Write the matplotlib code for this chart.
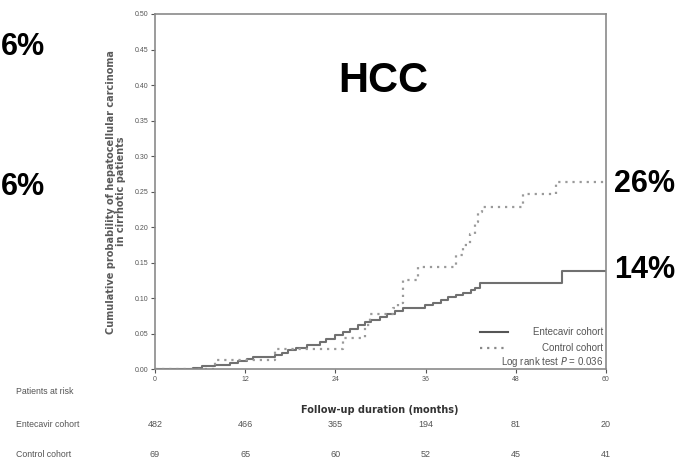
import numpy as np
import matplotlib.pyplot as plt
from matplotlib import transforms

plt.rcParams['font.family'] = ['Liberation Sans', 'DejaVu Sans']

# Kaplan-Meier step points (months, cumulative probability)
ent_months = [0, 5.1, 6.2, 8.0, 10.0, 11.1, 12.2, 13.1, 16.0, 16.9, 17.7, 18.8, 20.2,
              21.9, 22.8, 23.9, 25.0, 25.9, 27.0, 27.9, 28.8, 29.9, 30.8, 31.9, 33.0,
              35.9, 37.0, 38.0, 39.0, 40.0, 41.0, 42.0, 42.6, 43.2, 54.1, 60]
ent_prob = [0, 0.002, 0.004, 0.0055, 0.0094, 0.012, 0.015, 0.017, 0.0197, 0.0235, 0.027,
            0.030, 0.034, 0.0385, 0.043, 0.048, 0.053, 0.057, 0.062, 0.066, 0.070, 0.074,
            0.078, 0.082, 0.086, 0.090, 0.094, 0.098, 0.102, 0.105, 0.108, 0.112, 0.115,
            0.121, 0.138, 0.138]

ctl_months = [0, 8.0, 16.0, 25.0, 27.9, 28.6, 31.7, 32.3, 33.0, 35.0, 40.0, 41.0, 41.9,
              42.6, 43.0, 43.5, 49.0, 53.3, 60]
ctl_prob = [0, 0.013, 0.028, 0.044, 0.062, 0.078, 0.086, 0.094, 0.126, 0.144, 0.161,
            0.175, 0.19, 0.207, 0.221, 0.229, 0.247, 0.263, 0.263]

risk_months = [0, 12, 24, 36, 48, 60]
risk_entecavir = [482, 466, 365, 194, 81, 20]
risk_control = [69, 65, 60, 52, 45, 41]

W, H = 678, 461
fig = plt.figure(figsize=(W / 100, H / 100), dpi=100)
ax = fig.add_axes([155 / W, 1 - 369.3 / H, (606 - 155) / W, (369.3 - 14) / H])

dots = (0, (1, 2.2))
ax.plot(ent_months, ent_prob, drawstyle='steps-post', color='#707070', lw=1.5,
        label='Entecavir cohort')
ax.plot(ctl_months, ctl_prob, drawstyle='steps-post', color='#9a9a9a', lw=1.6,
        linestyle=dots, label='Control cohort')

ax.set_xlim(0, 60)
ax.set_ylim(0, 0.5)
ax.set_xticks(risk_months)
ax.set_yticks(np.arange(0, 0.51, 0.05))
ax.set_yticklabels([f'{v:.2f}' for v in np.arange(0, 0.51, 0.05)])
ax.tick_params(labelsize=5, colors='#555555', length=3, width=0.8, pad=2)
for s in ax.spines.values():
    s.set_color('#8a8a8a')
    s.set_linewidth(1.2)

ax.set_ylabel('Cumulative probability of hepatocellular carcinoma\nin cirrhotic patients',
              family='DejaVu Sans', fontsize=7, fontweight='bold', color='#5a5a5a',
              linespacing=1.0, labelpad=6)

ax.text(0.505, (369.3 - 92) / 355.3, 'HCC', transform=ax.transAxes, ha='center',
        va='baseline', fontsize=30, fontweight='bold', color='black')

# legend drawn by hand in the lower right corner
ax.plot([43.3, 47.0], [0.0525, 0.0525], color='#555555', lw=1.5)
ax.text(59.6, 0.0525, 'Entecavir cohort', ha='right', va='center', fontsize=7, color='#555555')
ax.plot([43.2, 46.7], [0.030, 0.030], color='#888888', lw=1.6, linestyle=dots)
ax.text(59.6, 0.030, 'Control cohort', ha='right', va='center', fontsize=7, color='#555555')
ax.text(59.6, 0.0105, 'Log rank test $\\it{P}$ = 0.036', ha='right', va='center',
        fontsize=7, color='#555555')

# end-point percentages
fig.text(614 / W, 1 - 192 / H, '26%', ha='left', va='baseline', fontsize=22,
         fontweight='bold')
fig.text(614 / W, 1 - 278 / H, '14%', ha='left', va='baseline', fontsize=22,
         fontweight='bold')
fig.text(0.5 / W, 1 - 55 / H, '6%', ha='left', va='baseline', fontsize=22,
         fontweight='bold')
fig.text(0.5 / W, 1 - 195 / H, '6%', ha='left', va='baseline', fontsize=22,
         fontweight='bold')

# patients at risk table
trans = transforms.blended_transform_factory(ax.transData, fig.transFigure)
fig.text(16 / W, 1 - 391 / H, 'Patients at risk', ha='left', va='center', fontsize=6.3,
         color='#555555')
fig.text(16 / W, 1 - 424 / H, 'Entecavir cohort', ha='left', va='center', fontsize=6.3,
         color='#555555')
fig.text(16 / W, 1 - 454 / H, 'Control cohort', ha='left', va='center', fontsize=6.3,
         color='#555555')
for m, e, c in zip(risk_months, risk_entecavir, risk_control):
    ax.text(m, 1 - 424 / H, str(e), transform=trans, ha='center', va='center',
            fontsize=6.5, color='#555555')
    ax.text(m, 1 - 454 / H, str(c), transform=trans, ha='center', va='center',
            fontsize=6.5, color='#555555')

fig.text(380 / W, 1 - 410 / H, 'Follow-up duration (months)', ha='center', va='center',
         family='DejaVu Sans', fontsize=7, fontweight='bold', color='#333333')

fig.savefig('out.png', dpi=100)
